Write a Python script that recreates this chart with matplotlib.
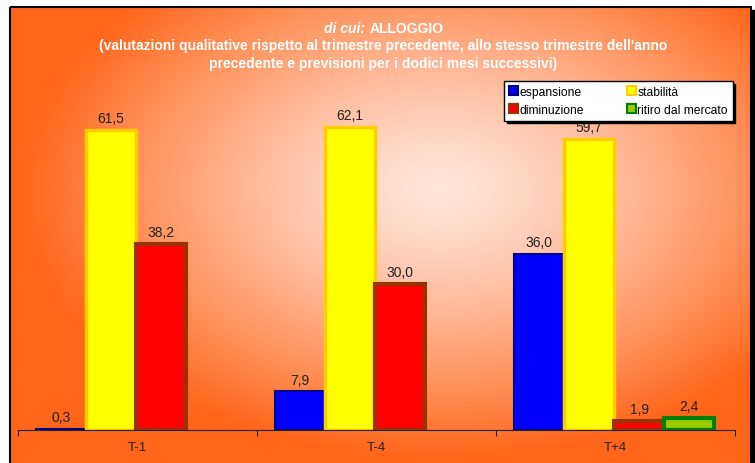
import numpy as np
import matplotlib.pyplot as plt
from matplotlib.patches import Rectangle

# dati
categorie = ["T-1", "T-4", "T+4"]
serie = ["espansione", "stabilità", "diminuzione", "ritiro dal mercato"]
espansione = [0.3, 7.9, 36.0]
stabilita = [61.5, 62.1, 59.7]
diminuzione = [38.2, 30.0, 1.9]
ritiro = [None, None, 2.4]
valori = [espansione, stabilita, diminuzione, ritiro]

facce = ["#0000FF", "#FFFF00", "#FF0000", "#99CC00"]
bordi = ["#000080", "#FFCC00", "#993300", "#008000"]
spessori = [1.5, 2.5, 3.0, 3.0]

W, H = 755, 464
fig = plt.figure(figsize=(W / 100, H / 100), dpi=100)
plt.rcParams['font.family'] = ['Liberation Sans', 'DejaVu Sans']

# sfondo con gradiente radiale
bg = fig.add_axes([0, 0, 1, 1])
bg.set_xlim(0, W)
bg.set_ylim(H, 0)
bg.axis("off")
x0, x1, y0, y1 = 10, 751, 8, 475
xx, yy = np.meshgrid(np.linspace(x0, x1, 300), np.linspace(y0, y1, 200))
d = np.sqrt(((xx - 440) / 420) ** 2 + ((yy - 190) / 270) ** 2)
d = np.clip(d, 0, 1) ** 1.3
c_in = np.array([1.0, 0.90, 0.86])
c_out = np.array([1.0, 0.40, 0.10])
img = c_in[None, None, :] * (1 - d[..., None]) + c_out[None, None, :] * d[..., None]
bg.add_patch(Rectangle((x0 + 3, y0 + 3), x1 - x0, y1 - y0, color="black", zorder=0))
bg.imshow(img, extent=(x0, x1, y1, y0), aspect="auto", zorder=1)
bg.add_patch(Rectangle((x0, y0), x1 - x0, y1 - y0, fill=False, ec="black", lw=1.5, zorder=2))

# titolo
fs_t = 10
bg.text(365, 29, "di cui:", color="white", fontsize=fs_t, fontweight="bold",
        fontstyle="italic", ha="right", va="center", zorder=3)
bg.text(370, 29, "ALLOGGIO", color="white", fontsize=fs_t, fontweight="bold",
        ha="left", va="center", zorder=3)
bg.text(383, 46, "(valutazioni qualitative rispetto al trimestre precedente, allo stesso trimestre dell'anno",
        color="white", fontsize=fs_t, fontweight="bold", ha="center", va="center", zorder=3)
bg.text(383, 64, "precedente e previsioni per i dodici mesi successivi)",
        color="white", fontsize=fs_t, fontweight="bold", ha="center", va="center", zorder=3)

# grafico
ax = fig.add_axes([18 / W, 33 / H, 717 / W, 341.6 / H])
ax.patch.set_alpha(0)
x = np.arange(len(categorie))
w = 0.209
for i, (vals, fc, ec, lw) in enumerate(zip(valori, facce, bordi, spessori)):
    pos = x + (i - 1.5) * w - 0.006
    for p, v in zip(pos, vals):
        if v is None:
            continue
        ax.bar(p, v, width=w, color=fc, edgecolor=ec, linewidth=lw)
        ax.annotate(f"{v:.1f}".replace(".", ","), (p, v), xytext=(0, 3.5),
                    textcoords="offset points", ha="center", va="bottom",
                    fontsize=10, color="#222222")

ax.set_xlim(-0.5, 2.5)
ax.set_ylim(0, 70)
ax.set_xticks([-0.5, 0.5, 1.5, 2.5])
ax.set_xticklabels([])
ax.set_xticks(x, minor=True)
ax.set_xticklabels(categorie, minor=True)
ax.tick_params(axis="x", which="major", length=4, direction="out", color="#222222")
ax.tick_params(axis="x", which="minor", length=0, pad=8, labelsize=9.5, labelcolor="#222222")
ax.set_yticks([])
for s in ["top", "right", "left"]:
    ax.spines[s].set_visible(False)
ax.spines["bottom"].set_color("#222222")

# legenda
handles = [Rectangle((0, 0), 1, 1, fc=fc, ec=ec, lw=1.5) for fc, ec in zip(facce, bordi)]
ordine = [0, 2, 1, 3]
leg = fig.legend([handles[k] for k in ordine], [serie[k] for k in ordine], ncol=2,
                 loc="upper left", bbox_to_anchor=(504 / W, 1 - 82 / H),
                 fontsize=8.7, frameon=True, fancybox=False, edgecolor="black",
                 facecolor="white", framealpha=1, handlelength=0.75, handleheight=0.75,
                 handletextpad=0.15, columnspacing=3.5, borderpad=0.4, labelspacing=0.5,
                 borderaxespad=0, shadow={"color": "black", "alpha": 1})
leg.get_frame().set_linewidth(1.0)

fig.savefig("out.png", dpi=100)
